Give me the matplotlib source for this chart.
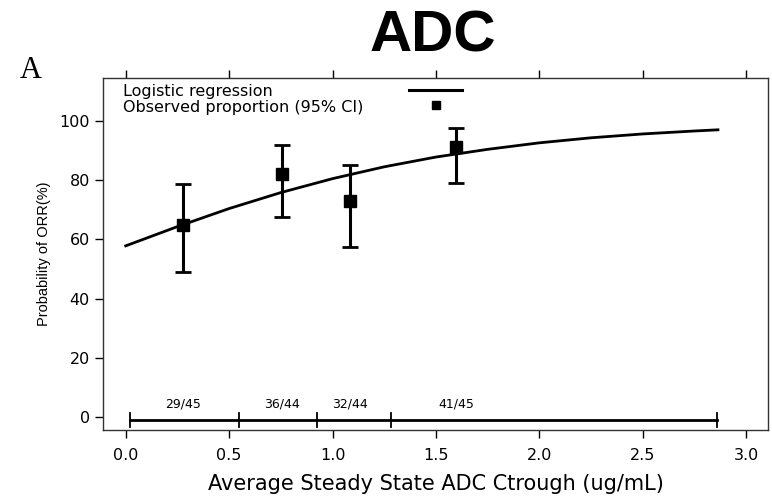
import numpy as np
import matplotlib
matplotlib.use('Agg')
import matplotlib.pyplot as plt

plt.rcParams['font.family'] = ['DejaVu Sans']

# observed proportions (%) with 95% CI, by exposure quartile
conc = [0.276, 0.755, 1.084, 1.597]
prop = [64.9, 82.0, 73.0, 91.3]
ci_low = [49.1, 67.5, 57.3, 78.9]
ci_high = [78.6, 91.9, 85.1, 97.5]
counts = ['29/45', '36/44', '32/44', '41/45']

# logistic regression curve
curve_x = [0.0, 0.25, 0.5, 0.75, 1.0, 1.25, 1.5, 1.75, 2.0, 2.25, 2.5, 2.75, 2.864]
curve_y = [57.8, 64.3, 70.4, 75.8, 80.5, 84.5, 87.8, 90.4, 92.6, 94.3, 95.6, 96.6, 97.0]

# quartile boundaries shown on the bottom bar
bounds = [0.02, 0.547, 0.924, 1.282, 2.86]

fig = plt.figure(figsize=(7.72, 5.0), dpi=100)
ax = fig.add_axes([0.1334, 0.14, 0.8614, 0.704])

ax.plot(curve_x, curve_y, color='black', lw=2)

err = [np.array(prop) - np.array(ci_low), np.array(ci_high) - np.array(prop)]
ax.errorbar(conc, prop, yerr=err, fmt='s', color='black', ms=8,
            elinewidth=2.2, capsize=6, capthick=2)

# quartile bar along y=0
ax.plot([bounds[0], bounds[-1]], [-1, -1], color='black', lw=2)
for b in bounds:
    ax.plot([b, b], [-3.5, 1.5], color='black', lw=1.3)
for c, t in zip(conc, counts):
    ax.text(c, 4.5, t, ha='center', va='center', fontsize=9)

# legend drawn as plain text, as in the original
ax.text(0.03, 0.962, 'Logistic regression', transform=ax.transAxes,
        fontsize=11.5, va='center')
ax.text(0.03, 0.915, 'Observed proportion (95% CI)', transform=ax.transAxes,
        fontsize=11.5, va='center')
ax.plot([0.46, 0.54], [0.967, 0.967], transform=ax.transAxes, color='black', lw=2.2)
ax.plot([0.501], [0.922], 's', transform=ax.transAxes, color='black', ms=6)

ax.set_xlim(-0.11, 3.106)
ax.set_ylim(-4.4, 114.5)
ax.set_xticks([0.0, 0.5, 1.0, 1.5, 2.0, 2.5, 3.0])
ax.set_xticklabels(['0.0', '0.5', '1.0', '1.5', '2.0', '2.5', '3.0'])
ax.set_yticks([0, 20, 40, 60, 80, 100])
ax.tick_params(axis='both', labelsize=11.5, direction='out', length=6, width=1)
ax.tick_params(axis='x', top=True, pad=7)
for s in ax.spines.values():
    s.set_linewidth(1)
    s.set_color('#333333')

ax.set_xlabel('Average Steady State ADC Ctrough (ug/mL)', fontsize=15, labelpad=8)
ax.set_ylabel('Probability of ORR(%)', fontsize=10.5, labelpad=6,
              family='Liberation Sans')

fig.text(0.56, 0.926, 'ADC', ha='center', va='center', fontsize=42, fontweight='bold',
         family='Liberation Sans')
fig.text(0.025, 0.86, 'A', fontsize=22, family='Liberation Serif', va='center')

fig.savefig('out.png', dpi=100)
